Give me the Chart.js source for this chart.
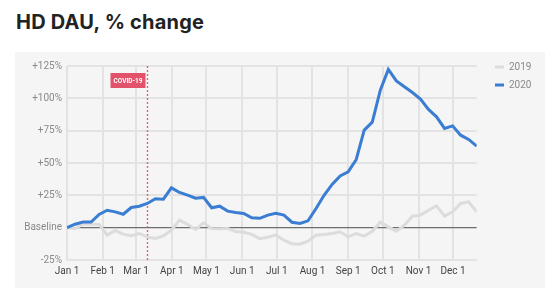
<!DOCTYPE html>
<html>
<head>
<meta charset="utf-8">
<script src="https://cdn.jsdelivr.net/npm/chart.js@4.4.1/dist/chart.umd.min.js"></script>
<style>
  html, body { margin: 0; padding: 0; background: #ffffff; }
  body { width: 545px; height: 300px; position: relative; overflow: hidden; }
  h1 { position: absolute; left: 16px; top: 12px; margin: 0; font-family: Inter, "Noto Sans", sans-serif; font-weight: 700; font-size: 20px; line-height: 20px; color: #222222; letter-spacing: 0.2px; }
  #panel { position: absolute; left: 15px; top: 52px; width: 530px; height: 236px; background: #f5f5f5; }
  #panel canvas { display: block; }
</style>
</head>
<body>
<h1>HD DAU, % change</h1>
<div id="panel"><canvas id="c" width="530" height="236"></canvas></div>
<script>
// ---- data (weekly points, Jan 1 onward) ----
const seriesNames = ['2019', '2020'];
const values2019 = [0, -0.8, 2.7, 2.7, 2.5, -5.8, -2.2, -5, -6.3, -4.5,
  -7.1, -8.4, -6.3, -1.9, 5.8, 2.6, -1.4, 3.7, -0.6, -0.9,
  -0.6, -3, -3.5, -5.2, -8.6, -7.4, -5.6, -9.7, -12.5, -12.8,
  -10.4, -5.8, -5.3, -4.5, -3.2, -7.1, -4.5, -6.6, -2.8, 4.2,
  0.6, -2.7, 1.9, 8.9, 9.7, 13.5, 16.9, 8.9, 12.2, 18.7,
  20, 12.2];
const values2020 = [0, 2.7, 4.3, 4.3, 10.2, 13.5, 12.2, 10.4, 15.6, 16.6,
  18.7, 22.3, 22, 30.8, 27.2, 25.1, 22.8, 23.4, 15.4, 16.6,
  12.8, 11.7, 11, 7.6, 7.2, 9.7, 11.2, 9.7, 4.2, 3.2,
  5.3, 14.8, 25, 33.4, 40, 43.2, 52.7, 75.4, 81.6, 106.3,
  122.3, 113.5, 108.9, 104.5, 99.4, 91.4, 85.7, 76.7, 78.7, 71.5,
  68.2, 63];
const monthLabels = ['Jan 1', 'Feb 1', 'Mar 1', 'Apr 1', 'May 1', 'Jun 1', 'Jul 1', 'Aug 1', 'Sep 1', 'Oct 1', 'Nov 1', 'Dec 1'];
const monthStartDays = [0, 31, 60, 91, 121, 152, 182, 213, 244, 274, 305, 335];
const yTickValues = [-25, 0, 25, 50, 75, 100, 125];
const yTickLabels = ['-25%', 'Baseline', '+25%', '+50%', '+75%', '+100%', '+125%'];
const covidDay = 69;
const covidLabel = 'COVID-19';
const DAYS_PER_POINT = 6.97;

const toPoints = arr => arr.map((v, i) => ({ x: i, y: v }));

const covidPlugin = {
  id: 'covid',
  beforeDatasetsDraw(chart) {
    const { ctx, chartArea, scales } = chart;
    const x = Math.round(scales.x.getPixelForValue(covidDay / DAYS_PER_POINT)) + 0.5;
    ctx.save();
    ctx.strokeStyle = 'rgba(230, 85, 100, 0.9)';
    ctx.lineWidth = 1.4;
    ctx.setLineDash([2, 2]);
    ctx.beginPath();
    ctx.moveTo(x, chartArea.top);
    ctx.lineTo(x, chartArea.bottom);
    ctx.stroke();
    ctx.setLineDash([]);
    const bw = 35, bh = 15;
    const bx = x - 2 - bw, by = chartArea.top + 7;
    ctx.fillStyle = '#e2526a';
    ctx.fillRect(bx, by, bw, bh);
    ctx.fillStyle = '#ffffff';
    ctx.font = 'bold 6.5px Roboto, sans-serif';
    ctx.textAlign = 'center';
    ctx.textBaseline = 'middle';
    ctx.fillText(covidLabel, bx + bw / 2, by + bh / 2 + 0.5);
    ctx.restore();
  }
};

new Chart(document.getElementById('c'), {
  type: 'line',
  data: {
    datasets: [
      { label: seriesNames[0], data: toPoints(values2019), borderColor: '#dcdcdc', backgroundColor: '#dcdcdc', borderWidth: 3, pointRadius: 0, tension: 0, order: 2 },
      { label: seriesNames[1], data: toPoints(values2020), borderColor: '#3a7dd2', backgroundColor: '#3a7dd2', borderWidth: 3, pointRadius: 0, tension: 0, order: 1 }
    ]
  },
  options: {
    responsive: false,
    animation: false,
    events: [],
    layout: { padding: { left: 0, right: 8, top: 2, bottom: 0 } },
    plugins: {
      tooltip: { enabled: false },
      legend: {
        position: 'right',
        align: 'start',
        maxWidth: 50,
        labels: {
          boxWidth: 9,
          boxHeight: 3,
          padding: 8,
          color: '#8a8a8a',
          font: { family: 'Roboto, sans-serif', size: 10 },
          sort: (a, b) => a.datasetIndex - b.datasetIndex,
          generateLabels: (chart) => {
            const items = Chart.defaults.plugins.legend.labels.generateLabels(chart);
            items.forEach(it => { it.lineWidth = 0; it.fillStyle = it.strokeStyle; });
            return items;
          }
        }
      }
    },
    scales: {
      x: {
        type: 'linear',
        position: 'bottom',
        min: 0,
        max: values2020.length - 1,
        afterBuildTicks: (s) => { s.ticks = monthStartDays.map(d => ({ value: d / DAYS_PER_POINT })); },
        afterFit: (s) => { s.height = 28; },
        grid: { color: '#e3e3e3', lineWidth: 2, drawTicks: false },
        border: { display: false },
        ticks: {
          autoSkip: false,
          maxRotation: 0,
          padding: 5,
          color: '#444444',
          font: { family: 'Roboto, sans-serif', size: 10 },
          callback: (v, i) => monthLabels[i]
        }
      },
      xTop: {
        type: 'linear',
        position: 'top',
        display: true,
        grid: { display: false, drawTicks: false },
        border: { display: false },
        ticks: { display: false },
        afterFit: (s) => { s.height = 12; }
      },
      y: {
        type: 'linear',
        position: 'left',
        min: -25,
        max: 125,
        afterBuildTicks: (s) => { s.ticks = yTickValues.map(v => ({ value: v })); },
        afterFit: (s) => { s.width = 52; },
        grid: {
          drawTicks: false,
          color: (c) => (c.tick && c.tick.value === 0) ? '#6e6e6e' : '#e3e3e3',
          lineWidth: (c) => (c.tick && c.tick.value === 0) ? 1.2 : 2
        },
        border: { display: false },
        ticks: {
          padding: 5,
          color: '#8a8a8a',
          font: { family: 'Roboto, sans-serif', size: 10 },
          callback: (v, i) => yTickLabels[i]
        }
      },
      yRight: {
        type: 'linear',
        position: 'right',
        display: true,
        grid: { display: false, drawTicks: false },
        border: { display: false },
        ticks: { display: false },
        afterFit: (s) => { s.width = 10.3; }
      }
    }
  },
  plugins: [covidPlugin]
});
</script>
</body>
</html>
